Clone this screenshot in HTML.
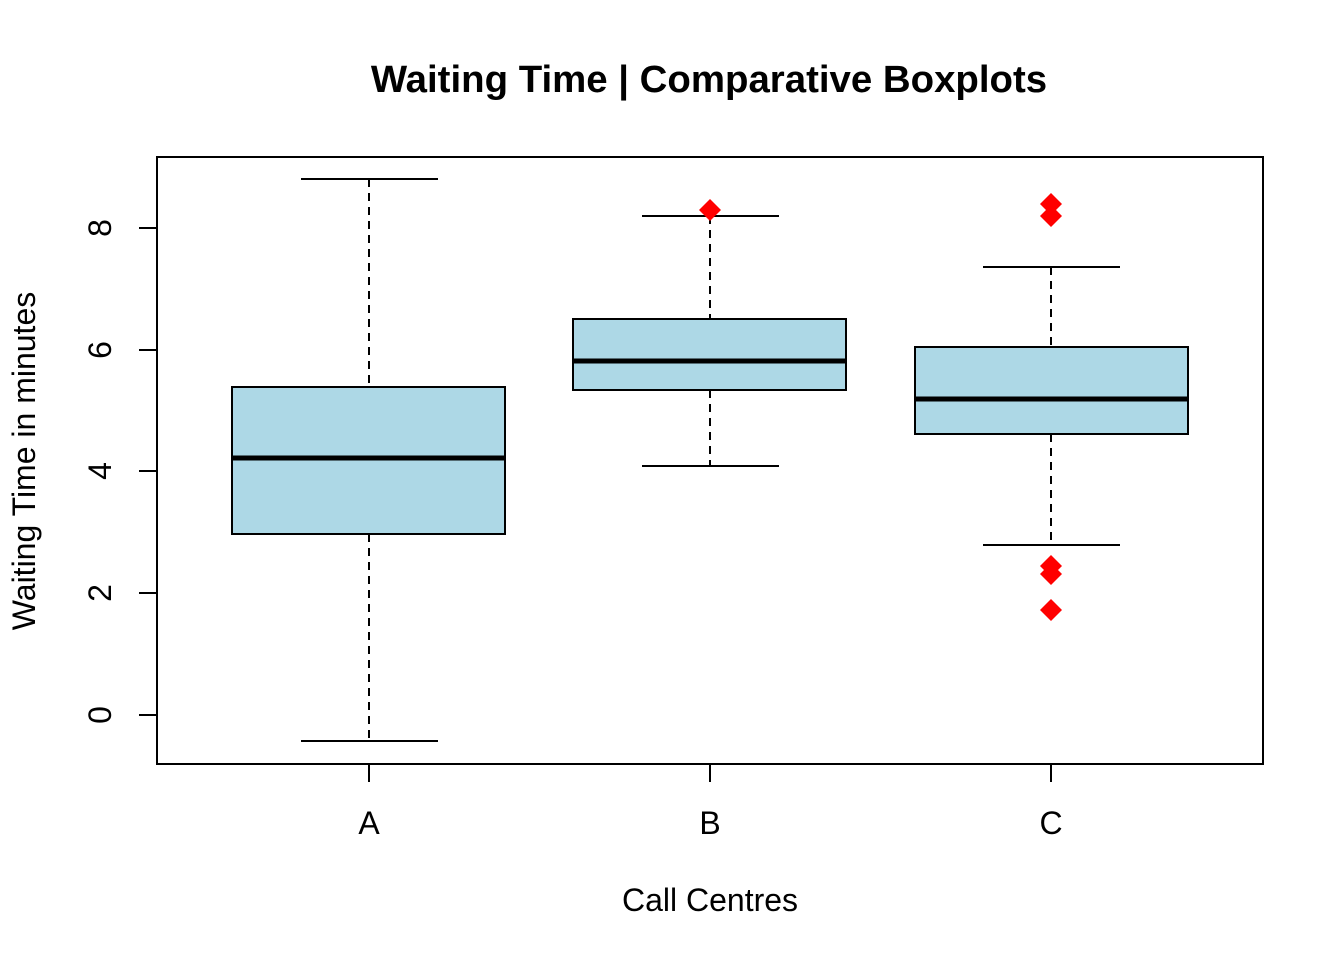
<!DOCTYPE html>
<html><head><meta charset="utf-8"><style>body{margin:0;background:#fff}svg{display:block}</style></head><body>
<svg width="1344" height="960" xmlns="http://www.w3.org/2000/svg" font-family="Liberation Sans, Arial, sans-serif">
<rect width="1344" height="960" fill="#fff"/>
<text x="709" y="92" text-anchor="middle" font-size="38.4" font-weight="bold">Waiting Time | Comparative Boxplots</text>
<rect x="157" y="157" width="1106" height="607" fill="none" stroke="#000" stroke-width="2"/>
<g stroke="#000" stroke-width="2">
<line x1="139" y1="715" x2="157" y2="715"/><line x1="139" y1="593" x2="157" y2="593"/><line x1="139" y1="471" x2="157" y2="471"/><line x1="139" y1="350" x2="157" y2="350"/><line x1="139" y1="228" x2="157" y2="228"/>
<line x1="369" y1="764" x2="369" y2="782"/><line x1="710" y1="764" x2="710" y2="782"/><line x1="1051" y1="764" x2="1051" y2="782"/>
</g>
<g font-size="32" text-anchor="middle">
<text transform="translate(111,715) rotate(-90)">0</text>
<text transform="translate(111,593) rotate(-90)">2</text>
<text transform="translate(111,471) rotate(-90)">4</text>
<text transform="translate(111,350) rotate(-90)">6</text>
<text transform="translate(111,228) rotate(-90)">8</text>
<text x="369" y="834">A</text><text x="710" y="834">B</text><text x="1051" y="834">C</text>
<text x="710" y="911">Call Centres</text>
<text transform="translate(35,461) rotate(-90)">Waiting Time in minutes</text>
</g>
<g stroke="#000" stroke-width="2">
<line x1="369" y1="179" x2="369" y2="387" stroke-dasharray="8,6"/><line x1="369" y1="534" x2="369" y2="741" stroke-dasharray="8,6"/>
<line x1="301" y1="179" x2="438" y2="179"/><line x1="301" y1="741" x2="438" y2="741"/>
<rect x="232" y="387" width="273" height="147" fill="#add8e6"/>
<line x1="232" y1="458" x2="505" y2="458" stroke-width="5"/>
<line x1="710" y1="216" x2="710" y2="319" stroke-dasharray="8,6"/><line x1="710" y1="390" x2="710" y2="466" stroke-dasharray="8,6"/>
<line x1="642" y1="216" x2="779" y2="216"/><line x1="642" y1="466" x2="779" y2="466"/>
<rect x="573" y="319" width="273" height="71" fill="#add8e6"/>
<line x1="573" y1="361" x2="846" y2="361" stroke-width="5"/>
<line x1="1051" y1="267" x2="1051" y2="347" stroke-dasharray="8,6"/><line x1="1051" y1="434" x2="1051" y2="545" stroke-dasharray="8,6"/>
<line x1="983" y1="267" x2="1120" y2="267"/><line x1="983" y1="545" x2="1120" y2="545"/>
<rect x="915" y="347" width="273" height="87" fill="#add8e6"/>
<line x1="915" y1="399" x2="1188" y2="399" stroke-width="5"/>
</g>
<g fill="#f00">
<path d="M710 199l11 11-11 11-11-11z"/>
<path d="M1051 193l11 11-11 11-11-11z"/>
<path d="M1051 205l11 11-11 11-11-11z"/>
<path d="M1051 555l11 11-11 11-11-11z"/>
<path d="M1051 563l11 11-11 11-11-11z"/>
<path d="M1051 599l11 11-11 11-11-11z"/>
</g>
</svg>
</body></html>
